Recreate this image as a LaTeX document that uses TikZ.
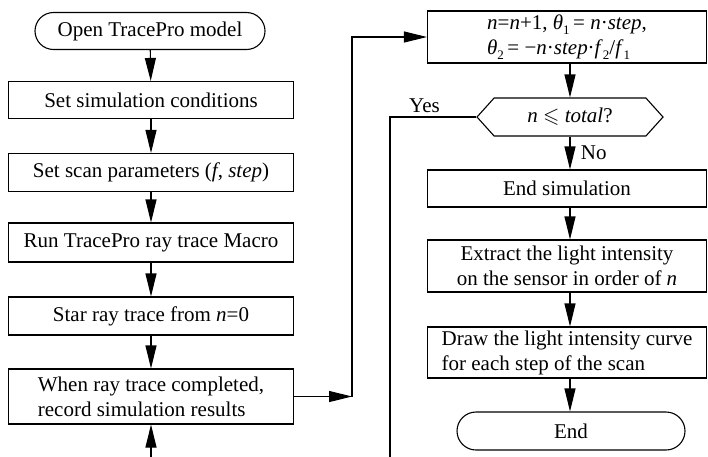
\documentclass[tikz,border=0pt]{standalone}
\usepackage{amssymb}
\usepackage{fontspec}
\setmainfont{Liberation Serif}
\usetikzlibrary{arrows.meta,shapes,positioning,calc}
\tikzstyle{proc}=[rectangle, draw=black, line width=1.1pt, inner sep=2pt]
\tikzstyle{term}=[rounded rectangle, draw=black, line width=1.1pt, inner sep=2pt]
\tikzstyle{test}=[signal, signal to=east and west, signal pointer angle=96, draw=black, line width=1.1pt, inner sep=2pt]
\tikzstyle{flow}=[-{Triangle[length=23pt,width=11pt]}, line width=1.1pt]
\tikzstyle{lab}=[font=\fontsize{21}{21}\selectfont]
\newcommand{\low}[1]{\raisebox{-0.5ex}{\fontsize{13}{13}\selectfont #1}}

\begin{document}
\begin{tikzpicture}[x=1pt, y=-1pt, font=\fontsize{21}{25}\selectfont]
        \useasboundingbox (0,0) rectangle (708,456);
        \clip (0,0) rectangle (708,456);
        % left column
        \node at (150,31) [term, minimum width=234pt, minimum height=37pt] (open) {Open TracePro model};
        \node at (151,100) [proc, minimum width=285pt, minimum height=37pt] (cond) {Set simulation conditions};
        \node at (151,172.5) [proc, minimum width=285pt, minimum height=38pt] (scan) {Set scan parameters (\textit{f}, \textit{step})};
        \node at (151,242.5) [proc, minimum width=285pt, minimum height=39pt] (macro) {Run TracePro ray trace Macro};
        \node at (151,316) [proc, minimum width=285pt, minimum height=38pt] (star) {Star ray trace from \textit{n}=0};
        \node at (151,396.5) [proc, minimum width=285pt, minimum height=55pt, align=left] (rec) {When ray trace completed,\\record simulation results};
        % right column
        \node at (567,37) [proc, minimum width=279pt, minimum height=52pt, align=left] (next)
          {\textit{n}=\textit{n}+1, \textit{θ}\low{1}\,= \textit{n}·\textit{step},\\\textit{θ}\low{2}\,= −\textit{n}·\textit{step}·\textit{f}\low{2}/\textit{f}\low{1}};
        \node at (570,117) [test, minimum width=186pt, minimum height=38pt] (check) {\textit{n} $\leqslant$ \textit{total}?};
        \node at (567,188.5) [proc, minimum width=279pt, minimum height=37pt] (stop) {End simulation};
        \node at (567,266) [proc, minimum width=279pt, minimum height=52pt, align=center] (extr) {Extract the light intensity\\on the sensor in order of \textit{n}};
        \node at (567,352.5) [proc, minimum width=279pt, minimum height=51pt, align=left] (curve) {Draw the light intensity curve\\for each step of the scan};
        \node at (571,431) [term, minimum width=232pt, minimum height=38pt] (end) {End};
        %
        \coordinate (turn) at (352,396.5);
        \coordinate (yesdown) at (390,480);
        \coordinate (yesback) at (151,480);
        %
        \draw[flow] (open) -- (cond);
        \draw[flow] (cond) -- (scan);
        \draw[flow] (scan) -- (macro);
        \draw[flow] (macro) -- (star);
        \draw[flow] (star) -- (rec);
        \draw[flow] (rec.east) -- (turn);
        \draw[flow] (turn) |- (next.west);
        \draw[flow] (check.north |- next.south) -- (check.north);
        \draw[flow] (check.south) -- node[right=7pt, lab] {No} (check.south |- stop.north);
        \draw[flow] (check.south |- stop.south) -- (check.south |- extr.north);
        \draw[flow] (check.south |- extr.south) -- (check.south |- curve.north);
        \draw[flow] (check.south |- curve.south) -- (check.south |- end.north);
        \draw[flow] (check.west) -| node[pos=.3, above, lab] {Yes} (yesdown) -- (yesback) -- (rec.south);
      \end{tikzpicture}
\end{document}
